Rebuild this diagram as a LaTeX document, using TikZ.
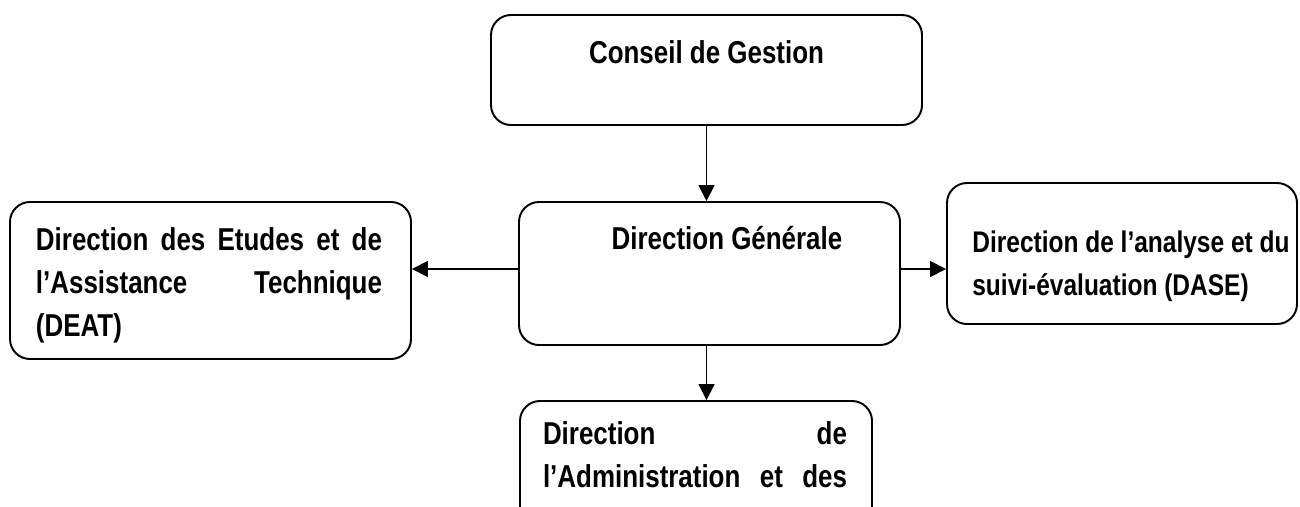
\documentclass[tikz,border=0pt]{standalone}
\usepackage{fontspec}
\setmainfont[FakeStretch=0.82]{Liberation Sans}
\usepackage{tikz}
\usetikzlibrary{shapes,arrows.meta,positioning}
\tikzstyle{box}=[rectangle, draw, line width=1.1pt, rounded corners=0.4cm]
\tikzstyle{title}=[font=\bfseries\fontsize{18}{24.5}\selectfont, inner sep=0pt]
\tikzstyle{para}=[font=\bfseries\fontsize{18}{24.5}\selectfont, inner sep=0pt, align=left]
\tikzstyle{link}=[line width=1pt, -{Triangle[length=9pt,width=9pt]}]

\begin{document}
\begin{tikzpicture}

\useasboundingbox (0,0) rectangle (26,-10.12);

%Boxes
\node[box, minimum width=8.62cm, minimum height=2.2cm] (cg) at (14.13,-1.4){};
\node[box, minimum width=7.62cm, minimum height=2.86cm] (dg) at (14.19,-5.47){};
\node[box, minimum width=8.02cm, minimum height=3.14cm] (deat) at (4.21,-5.61){};
\node[box, minimum width=7.0cm, minimum height=2.82cm] (dase) at (22.44,-5.07){};
\node[box, minimum width=7.04cm, minimum height=3cm] (daf) at (13.92,-9.52){};

%Texts
\node[title] (cgt) at (14.13,-1.04){Conseil de Gestion};
\node[title] (dgt) at (14.54,-4.76){Direction Générale};
\node[para, text width=6.92cm] (deatt) at (4.18,-5.7){Direction \hfill des \hfill Etudes \hfill et \hfill de\\ l’Assistance \hfill Technique\\ (DEAT)};
\node[para, anchor=west, font=\bfseries\fontsize{17}{24.5}\selectfont] (daset) at (19.44,-5.32){Direction de l’analyse et du\\ suivi-évaluation (DASE)};
\node[para, text width=6.08cm] (daft) at (13.9,-9.09){Direction \hfill de\\ l’Administration \hfill et \hfill des};

%Arrows
\draw[link] (cg.south) -- (cg.south |- dg.north);
\draw[link] (dg.west |- 0,-5.38) -- (deat.east |- 0,-5.38);
\draw[link] (dg.east |- 0,-5.38) -- (dase.west |- 0,-5.38);
\draw[link] (dg.south -| cg.south) -- (daf.north -| cg.south);

\end{tikzpicture}
\end{document}
